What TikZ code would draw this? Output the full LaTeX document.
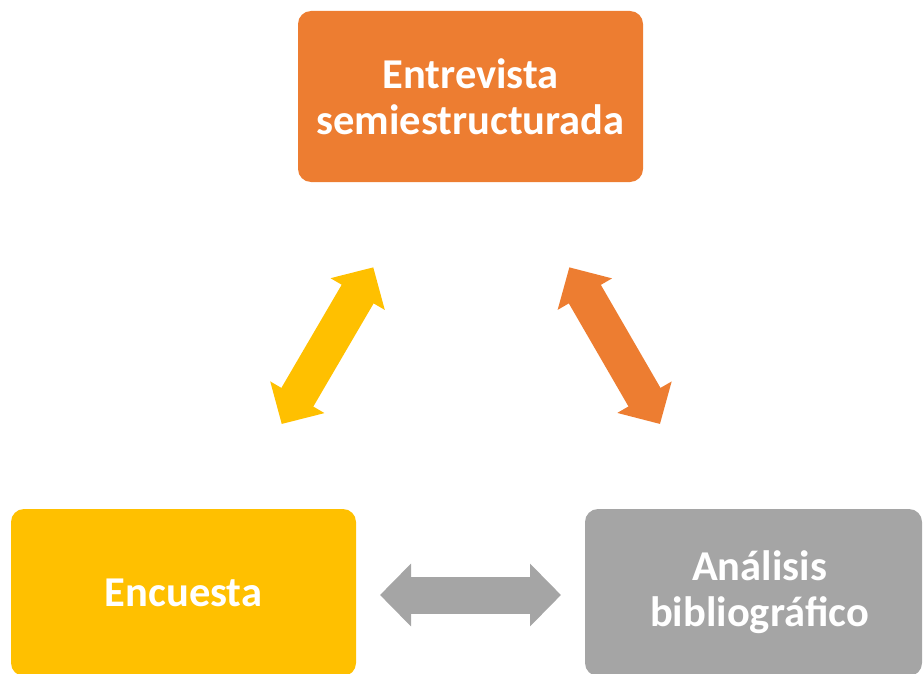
\documentclass[tikz,border=0pt]{standalone}
\usepackage{fontspec}
\setmainfont{Carlito}
\usetikzlibrary{arrows.meta}
\definecolor{cOrange}{HTML}{ED7D31}
\definecolor{cYellow}{HTML}{FFC000}
\definecolor{cGray}{HTML}{A5A5A5}
\begin{document}
\begin{tikzpicture}[x=1pt,y=-1pt,
  boxstyle/.style={rounded corners=13pt, inner sep=0pt, text=white,
    font=\fontsize{42.5}{46}\selectfont\bfseries, align=center},
  dblarrow/.style={line width=37pt, draw=#1,
    {Triangle[length=31pt 0 0,width=61pt 0 0]}-{Triangle[length=31pt 0 0,width=61pt 0 0]}}
]
\useasboundingbox (0,0) rectangle (923,674);
\node[boxstyle, fill=cOrange, minimum width=345pt, minimum height=171pt] (top) at (470.5,96.5) {Entrevista\\semiestructurada};
\node[boxstyle, fill=cYellow, minimum width=345pt, minimum height=167pt] (left) at (183.5,592.5) {Encuesta};
\node[boxstyle, fill=cGray, minimum width=337pt, minimum height=167pt] (right) at (753.5,592.5) {\hspace*{12pt}Análisis\\\hspace*{12pt}bibliográfico};
\coordinate (ya) at (281.7,424);
\coordinate (yb) at (373.3,267.3);
\coordinate (oa) at (569.3,267.3);
\coordinate (ob) at (660,424);
\coordinate (ga) at (380,595);
\coordinate (gb) at (561,595);
\draw[dblarrow=cYellow] (ya) -- (yb);
\draw[dblarrow=cOrange] (oa) -- (ob);
\draw[dblarrow=cGray] (ga) -- (gb);
\end{tikzpicture}
\end{document}
